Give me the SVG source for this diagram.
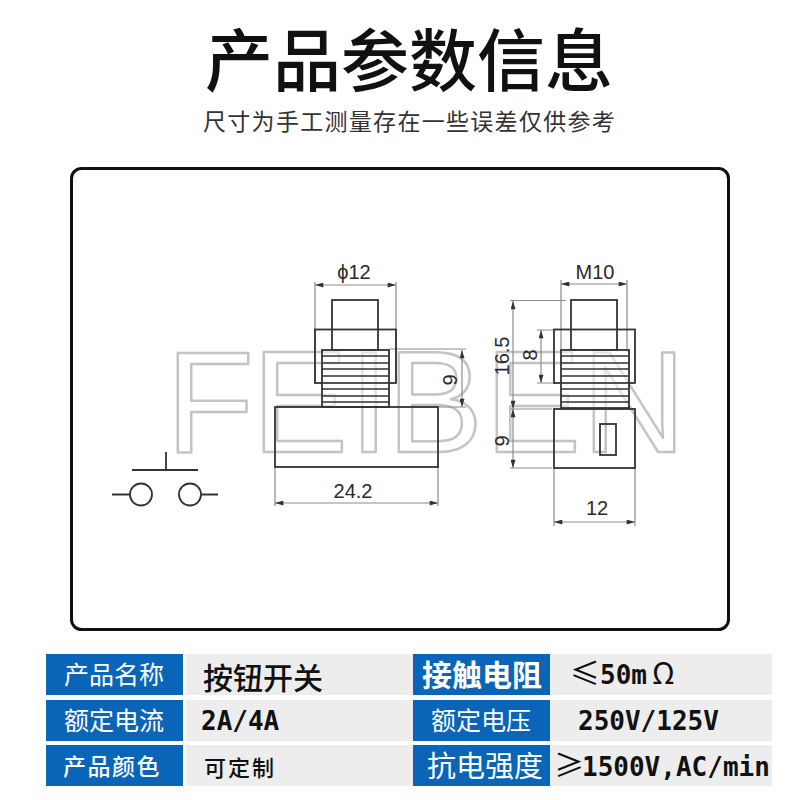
<svg xmlns="http://www.w3.org/2000/svg" width="800" height="800" viewBox="0 0 800 800">
<defs>
<style>
.cjk{font-family:"Noto Sans CJK SC","Noto Sans",sans-serif}
.mono{font-family:"DejaVu Sans Mono","Noto Sans CJK SC",monospace;font-weight:700;fill:#111;font-size:26px}
.sym{font-family:"Noto Sans CJK SC","Noto Sans",sans-serif;font-weight:400;font-size:30px}
.w{fill:#fff}
.k{fill:#111}
.blue{fill:#0a65b9}
.gray{fill:#ededed}
.part{fill:none;stroke:#333;stroke-width:1.8}
.thr{fill:none;stroke:#333;stroke-width:1.3}
.dim{fill:none;stroke:#8c8c8c;stroke-width:1.2}
.dl{font-family:"Liberation Sans",Arial,sans-serif;font-size:20px;fill:#2a2a2a}
.wm{font-family:"Liberation Sans",Arial,sans-serif;font-size:144px;fill:none;stroke:#c4c4c4;stroke-width:2.5;stroke-linejoin:round}
</style>
<marker id="a" viewBox="0 0 10 6" refX="10" refY="3" markerWidth="14" markerHeight="5" markerUnits="userSpaceOnUse" orient="auto-start-reverse"><path d="M0 0L10 3L0 6z" fill="#333"/></marker>
</defs>
<rect width="800" height="800" fill="#fff"/>
<g id="title">
<text class="cjk" x="205" y="86" font-size="68" font-weight="500" fill="#111">产品参数信息</text>
<text class="cjk" x="203" y="130" font-size="23" letter-spacing="1.3" fill="#333">尺寸为手工测量存在一些误差仅供参考</text>
</g>
<rect id="frame" x="71.500" y="168.500" width="657" height="461" rx="10" fill="#fff" stroke="#111" stroke-width="3"/>
<g id="watermark">
<text class="wm" y="452" x="166">F</text>
<text class="wm" y="452" x="252">E</text>
<text class="wm" y="452" x="349">I</text>
<text class="wm" y="452" x="387">B</text>
<text class="wm" y="452" x="485">E</text>
<text class="wm" y="452" x="582">N</text>
</g>
<g id="connectors">
<path class="dim" d="M315 282V383M396 282V383M275 467V506M438 467V506M389 349H466M407 407H466M561 280V352M627 280V352M510 300.500H566M510 409H552M537 330H556M537 383H556M510 468H552M554 468V526M635 468V526"/>
<path class="dim" marker-start="url(#a)" marker-end="url(#a)" d="M315 285H396"/>
<path class="dim" marker-start="url(#a)" marker-end="url(#a)" d="M275 503H438"/>
<path class="dim" marker-start="url(#a)" marker-end="url(#a)" d="M462 350V407"/>
<path class="dim" marker-start="url(#a)" marker-end="url(#a)" d="M561 284H627"/>
<path class="dim" marker-start="url(#a)" marker-end="url(#a)" d="M513 301V409"/>
<path class="dim" marker-start="url(#a)" marker-end="url(#a)" d="M541 330V383"/>
<path class="dim" marker-start="url(#a)" marker-end="url(#a)" d="M513 409V468"/>
<path class="dim" marker-start="url(#a)" marker-end="url(#a)" d="M554 522H635"/>
</g>
<g id="switch-symbol">
<path class="part" d="M166 452V470M132 470H198M112 494.500H130M201 494.500H218"/>
<circle class="part" cx="141" cy="494.500" r="11"/>
<circle class="part" cx="190" cy="494.500" r="11"/>
</g>
<g id="front-view">
<rect class="part" x="332" y="300" width="46" height="50"/>
<rect class="part" x="315" y="329.500" width="81" height="53.500"/>
<rect x="322" y="350" width="67" height="57" fill="#fff" fill-opacity=".55" stroke="#333" stroke-width="1.8"/>
<path class="thr" d="M322 356H389M322 363H389M322 369H389M322 376H389M322 383H389M322 389H389M322 396H389M322 402H389"/>
<rect class="part" x="275" y="407" width="163" height="60"/>
<text class="dl" x="354" y="279" text-anchor="middle">ϕ12</text>
<text class="dl" x="353" y="498" text-anchor="middle">24.2</text>
<text class="dl" transform="translate(457 380) rotate(-90)" text-anchor="middle">9</text>
</g>
<g id="side-view">
<rect class="part" x="571" y="300" width="46" height="50"/>
<rect class="part" x="554" y="329.500" width="81" height="53.500"/>
<rect x="561" y="350" width="68" height="58" fill="#fff" fill-opacity=".55" stroke="#333" stroke-width="1.800"/>
<path class="thr" d="M561 356H629M561 363H629M561 369H629M561 376H629M561 383H629M561 389H629M561 396H629M561 402H629"/>
<rect class="part" x="554" y="409" width="81" height="59"/>
<rect class="part" x="600" y="424" width="16" height="31"/>
<text class="dl" x="595" y="279" text-anchor="middle">M10</text>
<text class="dl" x="597" y="515" text-anchor="middle">12</text>
<text class="dl" transform="translate(509 356) rotate(-90)" text-anchor="middle">16.5</text>
<text class="dl" transform="translate(537 355) rotate(-90)" text-anchor="middle">8</text>
<text class="dl" transform="translate(509 441) rotate(-90)" text-anchor="middle">9</text>
</g>
<g id="spec-table">
<g id="row1">
<rect class="blue" x="46" y="654" width="137" height="41"/><rect class="gray" x="186" y="654" width="227" height="41"/>
<rect class="blue" x="413" y="654" width="137" height="41"/><rect class="gray" x="550" y="654" width="222" height="41"/>
<text class="cjk w" x="64" y="684" font-size="25">产品名称</text>
<text class="cjk k" x="203" y="689" font-size="30" font-weight="500">按钮开关</text>
<text class="cjk w" x="422" y="686" font-size="30" font-weight="700">接触电阻</text>
<text x="570" y="684" class="mono"><tspan class="sym">≤</tspan><tspan x="600">50m</tspan><tspan x="652" class="sym" font-size="24">Ω</tspan></text>
</g>
<g id="row2">
<rect class="blue" x="46" y="700" width="137" height="41"/><rect class="gray" x="186" y="700" width="227" height="41"/>
<rect class="blue" x="413" y="700" width="137" height="41"/><rect class="gray" x="550" y="700" width="222" height="41"/>
<text class="cjk w" x="64" y="730" font-size="25">额定电流</text>
<text x="201" y="730" class="mono">2A/4A</text>
<text class="cjk w" x="431" y="730" font-size="25">额定电压</text>
<text x="578" y="730" class="mono">250V/125V</text>
</g>
<g id="row3">
<rect class="blue" x="46" y="745" width="137" height="41"/><rect class="gray" x="186" y="745" width="227" height="41"/>
<rect class="blue" x="413" y="745" width="137" height="41"/><rect class="gray" x="550" y="745" width="222" height="41"/>
<text class="cjk w" x="63" y="775" font-size="23" letter-spacing="1.500" font-weight="500">产品颜色</text>
<text class="cjk k" x="204" y="776" font-size="22" letter-spacing="2" font-weight="500">可定制</text>
<text class="cjk w" x="427" y="777" font-size="29">抗电强度</text>
<text x="554" y="776" class="mono"><tspan class="sym">≥</tspan><tspan x="582">1500V,AC/min</tspan></text>
</g>
</g>
</svg>
